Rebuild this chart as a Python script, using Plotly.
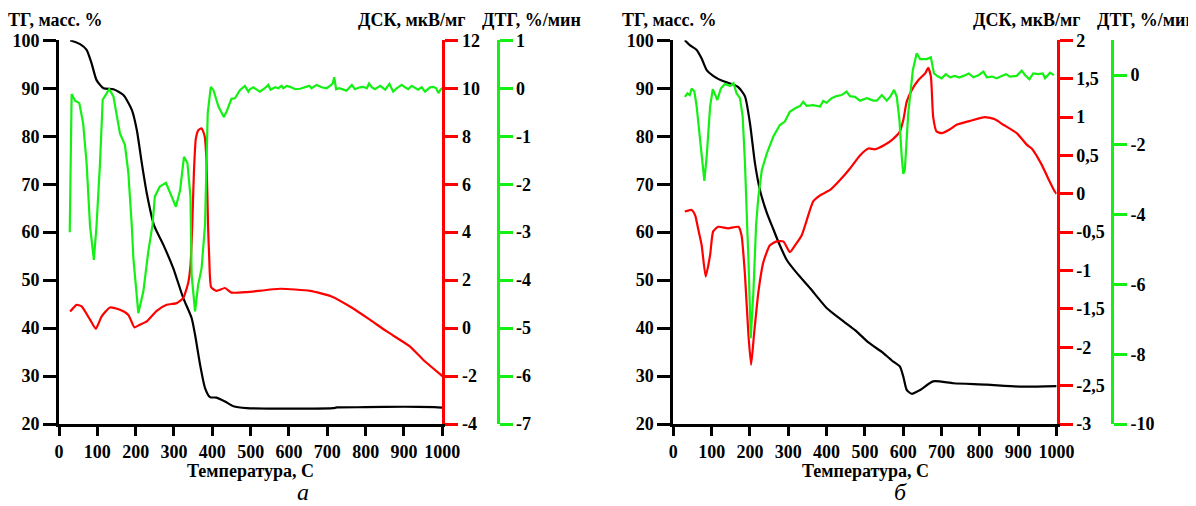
import plotly.graph_objects as go

# ---------------- Panel a ----------------
a_T_tg = [29, 55, 72, 85, 98, 116, 142, 168, 190, 203, 216, 229, 248, 272, 298, 324, 346, 355, 368, 381,
          394, 411, 433, 455, 490, 550, 650, 715, 725, 800, 900, 980, 1000]
a_tg = [100, 99.2, 98, 95.2, 91.7, 90, 89.8, 88.6, 85.5, 81.3, 74.4, 68.1, 61.4, 57.4, 52.5, 46.3, 42.1,
        38.6, 32.4, 27.5, 25.6, 25.5, 24.7, 23.7, 23.3, 23.2, 23.2, 23.3, 23.45, 23.5, 23.6, 23.5, 23.4]

a_T_dsc = [29, 46, 59, 81, 96, 111, 133, 159, 181, 197, 211, 229, 255, 281, 307, 324, 337, 343, 347, 352,
           357, 364, 372, 380, 385, 389, 392, 397, 411, 433, 450, 490, 577, 655, 711, 759, 811, 855, 916,
           950, 994, 1000]
a_dsc = [0.69, 0.97, 0.9, 0.35, -0.03, 0.48, 0.86, 0.76, 0.55, 0.03, 0.14, 0.28, 0.72, 0.97, 1.04, 1.25,
         1.88, 2.6, 4.0, 6.5, 7.9, 8.26, 8.33, 8.0, 6.9, 4.2, 2.9, 1.7, 1.55, 1.67, 1.48, 1.50, 1.64, 1.55,
         1.32, 0.9, 0.35, -0.14, -0.77, -1.32, -1.92, -2.0]

a_T_dtg = [28, 33, 42, 53, 63, 72, 81, 91, 98, 107, 114, 124, 131, 142, 159, 172, 181, 190, 194, 207, 220,
           233, 244, 250, 263, 279, 290, 305, 316, 326, 335, 343, 346, 355, 363, 372, 381, 388, 396, 403,
           416, 430, 437, 450, 459, 472, 485, 494,
           498, 507, 516, 524, 537, 546, 552, 564, 572, 581, 585, 594, 603, 616, 629, 642, 653, 659, 672,
           685, 698, 707, 714, 718, 723, 731, 742, 750, 764, 772, 785, 794, 803, 809, 816, 824, 838, 851,
           862, 872, 881, 894, 903, 911, 920, 929, 937, 946, 955, 968, 977, 984, 990, 996, 1000]
a_dtg = [-3.0, -0.12, -0.26, -0.31, -0.73, -1.56, -2.88, -3.58, -2.85, -1.56, -0.24, -0.1, -0.02, -0.17,
         -0.94, -1.18, -1.77, -2.88, -3.54, -4.69, -4.24, -3.4, -2.85, -2.26, -2.05, -1.97, -2.19, -2.47,
         -2.12, -1.43, -1.56, -2.26, -3.89, -4.65, -4.1, -3.75, -2.85, -0.52, 0.03, -0.04, -0.38, -0.6,
         -0.49, -0.22, -0.21, -0.04, 0.05, -0.07,
         -0.02, 0.02, -0.03, -0.07, 0.0, 0.07, -0.03, 0.02, 0.0, 0.05, 0.0, 0.05, 0.03, -0.02, -0.01, 0.02,
         0.05, 0.0, 0.07, 0.02, 0.0, 0.05, 0.1, 0.23, -0.02, 0.0, -0.02, -0.05, 0.07, -0.02, 0.02, 0.03,
         0.0, 0.1, 0.02, -0.02, 0.05, -0.03, 0.09, -0.07, 0.0, 0.07, 0.02, -0.02, 0.05, 0.0, -0.03, 0.02,
         -0.07, 0.02, 0.03, 0.0, -0.1, -0.02, 0.0]

# ---------------- Panel b ----------------
b_T_tg = [30, 43, 61, 74, 87, 104, 126, 152, 170, 187, 200, 213, 226, 244, 261, 274, 296, 322, 357, 400,
          444, 478, 509, 548, 574, 591, 600, 609, 622, 644, 678, 731, 818, 904, 1000]
b_tg = [100, 99.0, 98, 96.2, 93.8, 92.6, 91.6, 90.9, 90.2, 88.3, 82.7, 74.4, 68.8, 64, 60.6, 58, 54.2,
        51.5, 48.3, 44.2, 41.4, 39.3, 37.0, 34.8, 33.0, 32.0, 29.9, 27.1, 26.3, 27.1, 28.9, 28.5, 28.2,
        27.8, 27.9]

b_T_dsc = [30, 48, 57, 65, 74, 84.5, 96, 104, 117, 143, 170, 178, 187, 196, 203, 210.5, 222, 235, 252,
           270, 287, 304, 318, 335, 344, 365, 383, 409, 435, 461, 487, 509, 526, 552, 570, 591, 600, 609,
           622, 639, 657, 665, 672, 678, 687, 700, 722, 739, 774, 813, 839, 861, 896, 922, 935, 961, 978,
           994, 1000]
b_dsc = [-0.23, -0.21, -0.28, -0.46, -0.67, -1.08, -0.8, -0.49, -0.43, -0.45, -0.43, -0.54, -1.06,
         -1.84, -2.23, -1.84, -1.28, -0.89, -0.67, -0.62, -0.62, -0.76, -0.67, -0.54, -0.41, -0.1, -0.02,
         0.05, 0.18, 0.33, 0.5, 0.59, 0.58, 0.64, 0.70, 0.81, 0.96, 1.2, 1.35, 1.48, 1.57, 1.64, 1.53,
         1.0, 0.81, 0.79, 0.84, 0.90, 0.95, 1.0, 0.97, 0.90, 0.79, 0.64, 0.59, 0.38, 0.2, 0.04, 0.0]

b_T_dtg = [30, 37, 43, 48, 55, 61, 70, 77, 81, 87, 96, 103, 109, 115, 124, 135, 148, 157, 165, 174, 181,
           187, 193, 196, 202, 209, 216, 222, 231, 244, 261, 278, 291, 304, 318, 331, 339, 348, 365, 383,
           391, 400, 413, 426, 439, 452, 461, 474, 487, 505, 522, 531, 544, 557, 567, 576, 583, 590, 596,
           600, 604, 613, 625, 635, 644, 661, 672, 680, 691, 700, 711, 722, 735, 746, 757, 771, 783, 796,
           809, 818, 831, 844, 857, 868, 878, 896, 909, 918, 929, 939, 952, 964, 970, 983, 993]
b_dtg = [-0.62, -0.52, -0.57, -0.38, -0.47, -0.9, -1.86, -2.72, -3.03, -2.34, -0.9, -0.4, -0.57, -0.71,
         -0.38, -0.25, -0.31, -0.23, -0.52, -0.66, -1.19, -2.53, -4.42, -5.25, -7.54, -6.2, -4.3, -3.48,
         -2.72, -2.24, -1.76, -1.43, -1.33, -1.05, -0.95, -0.88, -0.76, -0.88, -0.86, -0.9, -0.74, -0.79,
         -0.66, -0.6, -0.57, -0.47, -0.6, -0.62, -0.73, -0.66, -0.73, -0.73, -0.57, -0.73, -0.6, -0.42,
         -0.62, -1.29, -2.34, -2.83, -2.72, -1.09, 0.15, 0.63, 0.46, 0.46, 0.51, 0.05, -0.04, -0.09, 0.03,
         -0.06, -0.02, -0.07, -0.02, 0.05, -0.06, 0.0, 0.1, -0.06, -0.04, -0.09, -0.02, 0.03, -0.04,
         -0.02, 0.13, 0.0, -0.12, 0.05, 0.03, 0.05, -0.09, 0.07, 0.0]

# ---------------- ticks ----------------
x_ticks = [0, 100, 200, 300, 400, 500, 600, 700, 800, 900, 1000]
tg_ticks = [20, 30, 40, 50, 60, 70, 80, 90, 100]
a_dsc_ticks = [-4, -2, 0, 2, 4, 6, 8, 10, 12]
a_dsc_text = ["-4", "-2", "0", "2", "4", "6", "8", "10", "12"]
a_dtg_ticks = [-7, -6, -5, -4, -3, -2, -1, 0, 1]
a_dtg_text = ["-7", "-6", "-5", "-4", "-3", "-2", "-1", "0", "1"]
b_dsc_ticks = [-3, -2.5, -2, -1.5, -1, -0.5, 0, 0.5, 1, 1.5, 2]
b_dsc_text = ["-3", "-2,5", "-2", "-1,5", "-1", "-0,5", "0", "0,5", "1", "1,5", "2"]
b_dtg_ticks = [-10, -8, -6, -4, -2, 0]
b_dtg_text = ["-10", "-8", "-6", "-4", "-2", "0"]

BLACK = "#000000"
RED = "#ff0000"
GREEN = "#14f014"
FONT = "Liberation Serif"
OFF = 8                      # default page body margin
W, H = 1196 - OFF, 506 - OFF


def px(x):
    return (x - OFF) / W


def py(y):
    return 1 - (y - OFF) / H


fig = go.Figure()
fig.add_trace(go.Scatter(x=a_T_tg, y=a_tg, mode="lines", line=dict(color=BLACK, width=2.2, shape="spline", smoothing=0.6),
                         xaxis="x", yaxis="y", showlegend=False))
fig.add_trace(go.Scatter(x=a_T_dsc, y=a_dsc, mode="lines", line=dict(color=RED, width=2.2, shape="spline", smoothing=0.5),
                         xaxis="x", yaxis="y2", showlegend=False))
fig.add_trace(go.Scatter(x=a_T_dtg, y=a_dtg, mode="lines", line=dict(color=GREEN, width=2.2),
                         xaxis="x", yaxis="y3", showlegend=False))
fig.add_trace(go.Scatter(x=b_T_tg, y=b_tg, mode="lines", line=dict(color=BLACK, width=2.2, shape="spline", smoothing=0.6),
                         xaxis="x2", yaxis="y4", showlegend=False))
fig.add_trace(go.Scatter(x=b_T_dsc, y=b_dsc, mode="lines", line=dict(color=RED, width=2.2, shape="spline", smoothing=0.5),
                         xaxis="x2", yaxis="y5", showlegend=False))
fig.add_trace(go.Scatter(x=b_T_dtg, y=b_dtg, mode="lines", line=dict(color=GREEN, width=2.2),
                         xaxis="x2", yaxis="y6", showlegend=False))

tickfont = dict(family=FONT, size=18, color="black", weight="bold")
ydom = [py(424), py(40.3)]
xa_dom = [px(59), px(442.3)]
xb_dom = [px(673.3), px(1056.6)]

xcommon = dict(range=[0, 1000], tickvals=x_ticks, showline=True, linecolor="black", linewidth=3,
               ticks="outside", ticklen=9, tickwidth=3, tickcolor="black", showgrid=False, zeroline=False,
               tickfont=tickfont, automargin=False)


def yax(rng, tv, tt, color, **kw):
    d = dict(range=rng, tickvals=tv, ticktext=tt, showline=True, linecolor=color, linewidth=3,
             ticks="outside", ticklen=13, tickwidth=3, tickcolor=color, showgrid=False, zeroline=False,
             tickfont=tickfont, automargin=False)
    d.update(kw)
    return d


fig.update_layout(
    template="none",
    width=W, height=H, autosize=False,
    margin=dict(l=0, r=0, t=0, b=0, pad=0),
    paper_bgcolor="white", plot_bgcolor="rgba(0,0,0,0)",
    xaxis=dict(domain=xa_dom, anchor="y", **xcommon),
    xaxis2=dict(domain=xb_dom, anchor="y4", **xcommon),
    yaxis=yax([20, 100], tg_ticks, [str(v) for v in tg_ticks], BLACK, domain=ydom, anchor="x", side="left"),
    yaxis2=yax([-4, 12], a_dsc_ticks, a_dsc_text, RED, overlaying="y", anchor="x", side="right"),
    yaxis3=yax([-7, 1], a_dtg_ticks, a_dtg_text, GREEN, overlaying="y", anchor="free", side="right",
               position=px(497.5)),
    yaxis4=yax([20, 100], tg_ticks, [str(v) for v in tg_ticks], BLACK, domain=ydom, anchor="x2", side="left"),
    yaxis5=yax([-3, 2], b_dsc_ticks, b_dsc_text, RED, overlaying="y4", anchor="x2", side="right"),
    yaxis6=yax([-10, 1], b_dtg_ticks, b_dtg_text, GREEN, overlaying="y4", anchor="free", side="right",
               position=px(1112)),
)

tfont = dict(family=FONT, size=18, color="black", weight="bold")
ann = []
for (xc, xr, xl, xt) in [(55, 468, 480, 250.7), (669.5, 1083, 1095, 865)]:
    ann.append(dict(text="ТГ, масс. %", x=px(xc), y=py(20), xanchor="center", yanchor="middle", font=tfont))
    ann.append(dict(text="ДСК, мкВ/мг", x=px(xr), y=py(20), xanchor="right", yanchor="middle", font=tfont))
    ann.append(dict(text="ДТГ, %/мин", x=px(xl), y=py(20), xanchor="left", yanchor="middle", font=tfont))
    ann.append(dict(text="Температура, С", x=px(xt), y=py(471), xanchor="center", yanchor="middle", font=tfont))
for (xc, lab) in [(303, "а"), (900, "б")]:
    ann.append(dict(text=lab, x=px(xc), y=py(492), xanchor="center", yanchor="middle",
                    font=dict(family=FONT, size=24, color="black", style="italic")))
for a in ann:
    a.update(xref="paper", yref="paper", showarrow=False)
fig.update_layout(annotations=ann)

fig.write_html("out.html")
